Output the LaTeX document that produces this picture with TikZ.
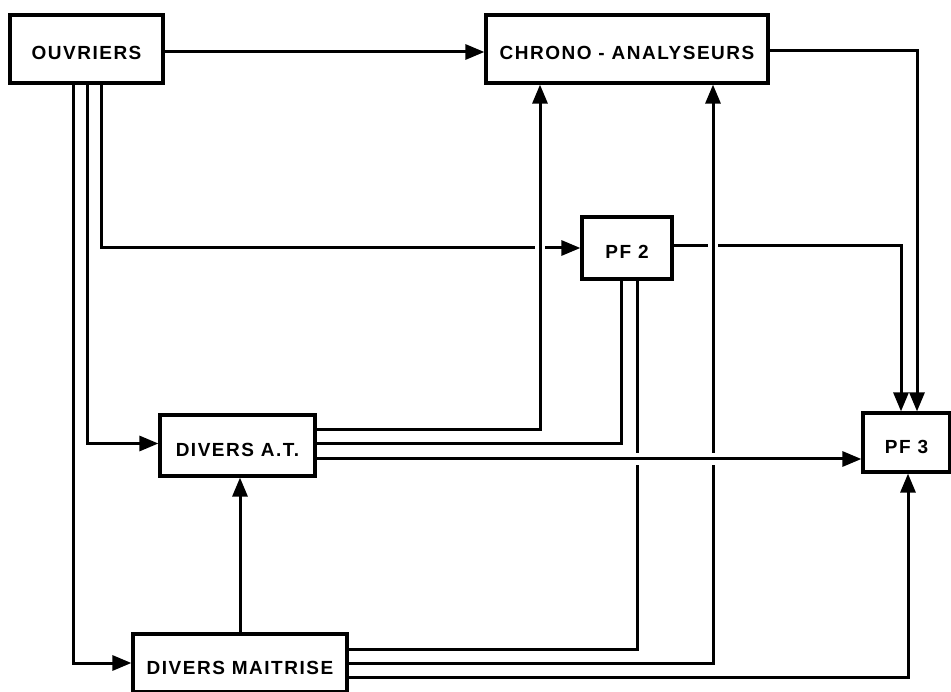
\documentclass[tikz,border=0pt]{standalone}
\usepackage{fontspec}
\setmainfont{Liberation Sans}[LetterSpace=8]
\usetikzlibrary{arrows.meta,calc}
\begin{document}
\begin{tikzpicture}[x=1pt,y=-1pt,
  box/.style={draw, line width=3.2pt, inner sep=0pt, text height=22pt, text depth=0pt,
    font=\fontsize{19}{19}\selectfont\bfseries},
  conn/.style={line width=3pt},
  arr/.style={conn, -{Triangle[length=19pt,width=15pt]}},
  gapfill/.style={fill=white}]
\useasboundingbox (0,0) rectangle (951,692);
% boxes
\node[box, minimum width=153pt, minimum height=68pt] (ouv) at (86.5,49) {OUVRIERS};
\node[box, minimum width=282pt, minimum height=68pt] (chrono) at (627,49) {CHRONO - ANALYSEURS};
\node[box, minimum width=90pt, minimum height=62pt] (pf2) at (627,248) {PF 2};
\node[box, minimum width=87pt, minimum height=59pt] (pf3) at (906.5,442.5) {PF 3};
\node[box, minimum width=155pt, minimum height=61pt] (dat) at (237.5,445.5) {DIVERS A.T.};
\node[box, minimum width=214pt, minimum height=58pt] (dmai) at (240,663) {DIVERS MAITRISE};
% named coordinates
\coordinate (o1) at ($(ouv.south)+(-13.5,0)$);
\coordinate (o2) at ($(ouv.south)+(0.5,0)$);
\coordinate (o3) at ($(ouv.south)+(14.5,0)$);
\coordinate (oe) at ($(ouv.east)+(0,3)$);
\coordinate (cw) at ($(chrono.west)+(0,3)$);
\coordinate (ce) at ($(chrono.east)+(0,2)$);
\coordinate (v1) at ($(chrono.south)+(-87,0)$);
\coordinate (v2) at ($(chrono.south)+(86,0)$);
\coordinate (p3a) at ($(pf3.north)+(-5.5,0)$);
\coordinate (p3b) at ($(pf3.north)+(10.5,0)$);
\coordinate (p3s) at ($(pf3.south)+(1.5,0)$);
\coordinate (p2e) at ($(pf2.east)+(0,-2)$);
\coordinate (p2a) at ($(pf2.south)+(-6,0)$);
\coordinate (p2b) at ($(pf2.south)+(10,0)$);
\coordinate (d1) at ($(dat.east)+(0,-15.5)$);
\coordinate (d2) at ($(dat.east)+(0,-1.5)$);
\coordinate (d3) at ($(dat.east)+(0,13.5)$);
\coordinate (dw) at ($(dat.west)+(0,-2)$);
\coordinate (m1) at ($(dmai.east)+(0,-14)$);
\coordinate (m3) at ($(dmai.east)+(0,14)$);
% connectors
\draw[arr] (oe) -- (cw);
\draw[arr] (ce) -| (p3b);
\draw[arr] (o3) |- (pf2.west);
\draw[arr] (p2e) -| (p3a);
% gaps in horizontals
\fill[gapfill] ($(v1 |- pf2.west)+(-5,-4)$) rectangle ($(v1 |- pf2.west)+(5,4)$);
\fill[gapfill] ($(v2 |- p2e)+(-5,-4)$) rectangle ($(v2 |- p2e)+(5,4)$);
% verticals
\draw[arr] (d1) -| (v1);
\draw[arr] (dmai.east) -| (v2);
\draw[conn] (p2b) |- (m1);
\draw[conn] (p2a) |- (d2);
% gaps in verticals
\fill[gapfill] ($(p2b |- d3)+(-4,-6)$) rectangle ($(p2b |- d3)+(4,6)$);
\fill[gapfill] ($(v2 |- d3)+(-4,-6)$) rectangle ($(v2 |- d3)+(4,6)$);
\draw[arr] (d3) -- (d3 -| pf3.west);
\draw[arr] (m3) -| (p3s);
\draw[arr] (dmai.north) -- (dmai.north |- dat.south);
\draw[arr] (o2) |- (dw);
\draw[arr] (o1) |- (dmai.west);
\end{tikzpicture}
\end{document}
